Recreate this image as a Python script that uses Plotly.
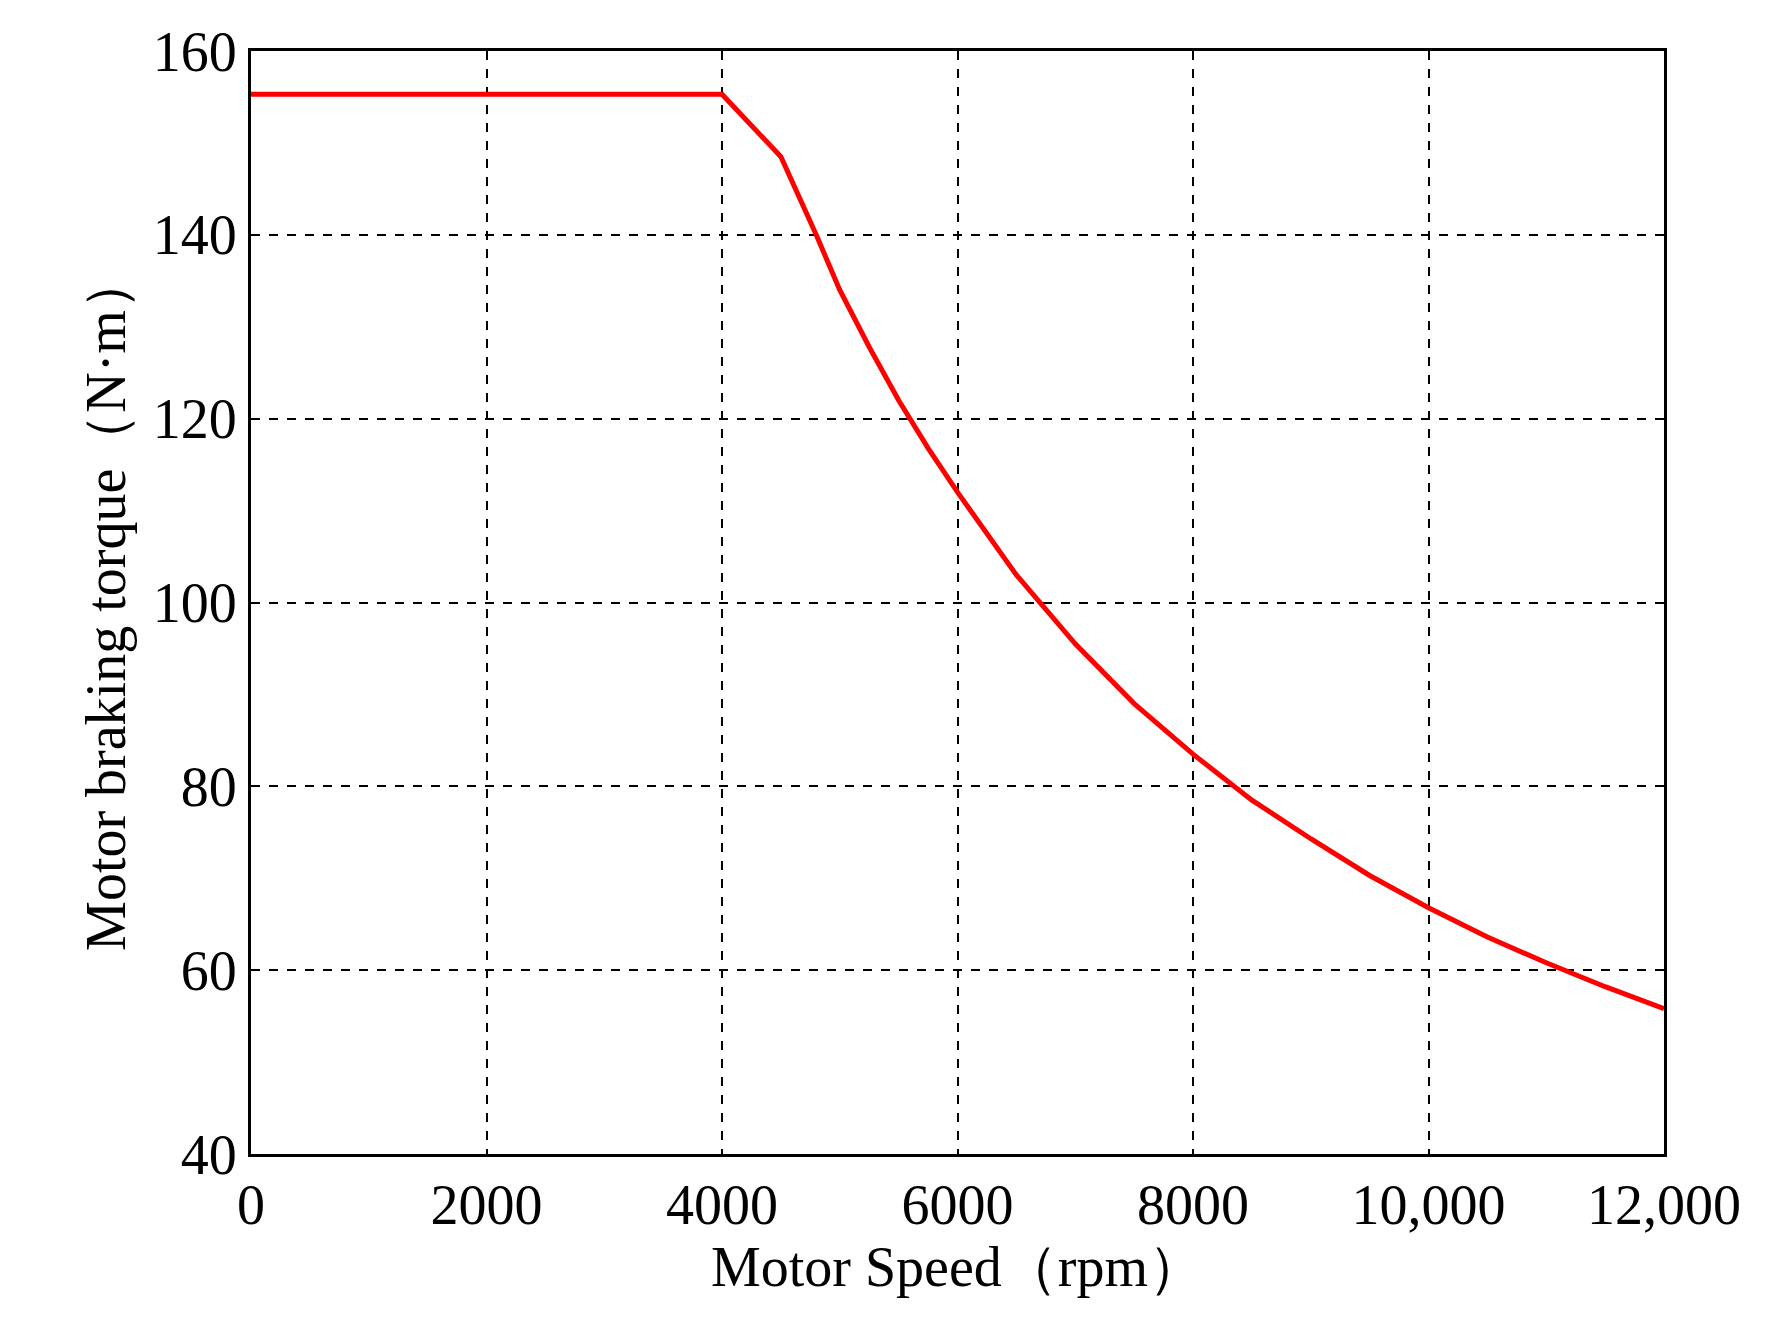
import plotly.graph_objects as go

speed = [0, 4000, 4500, 4800, 5000, 5250, 5500, 5750, 6000, 6500, 7000, 7500, 8000, 8500, 9000, 9500, 10000, 10500, 11000, 11500, 12000]
torque = [155.3, 155.3, 148.5, 140, 134, 127.8, 122, 116.8, 112, 103, 95.5, 89, 83.5, 78.5, 74.3, 70.3, 66.8, 63.6, 60.8, 58.2, 55.8]

fig = go.Figure(go.Scatter(x=speed, y=torque, mode="lines", line=dict(color="red", width=5)))
font = dict(family="Liberation Serif", size=56, color="black")
ax = dict(showline=True, mirror=True, linecolor="black", linewidth=3, showgrid=True,
          gridcolor="black", griddash="dash", gridwidth=2, zeroline=False, ticks="", tickfont=font)
fig.update_xaxes(**ax, range=[0, 12000], tickvals=[0, 2000, 4000, 6000, 8000, 10000, 12000],
                 ticktext=["0", "2000", "4000", "6000", "8000", "10,000", "12,000"],
                 title=dict(text="Motor Speed（rpm）", font=font, standoff=5))
fig.update_yaxes(**ax, range=[40, 160], dtick=20,
                 title=dict(text="Motor braking torque（N·m）", font=font, standoff=10))
fig.update_layout(width=1770, height=1319, plot_bgcolor="white", paper_bgcolor="white",
                  showlegend=False, margin=dict(l=243, r=114, t=43, b=173))
fig.write_html("out.html")
